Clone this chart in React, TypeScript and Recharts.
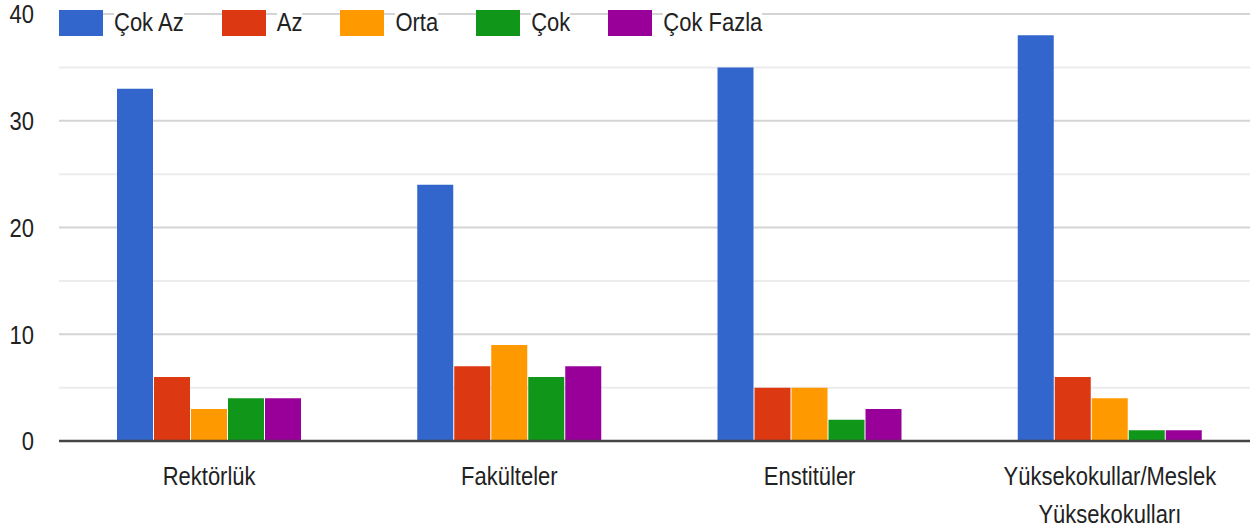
import React from 'react';
import { BarChart, Bar, XAxis, YAxis, CartesianGrid } from 'recharts';

const categories = ['Rektörlük', 'Fakülteler', 'Enstitüler', 'Yüksekokullar/Meslek Yüksekokulları'];
const seriesNames = ['Çok Az', 'Az', 'Orta', 'Çok', 'Çok Fazla'];
const seriesColors = ['#3366cc', '#dc3912', '#ff9900', '#109618', '#990099'];
const cokAz = [33, 24, 35, 38];
const az = [6, 7, 5, 6];
const orta = [3, 9, 5, 4];
const cok = [4, 6, 2, 1];
const cokFazla = [4, 7, 3, 1];
const gridTicks = [0, 5, 10, 15, 20, 25, 30, 35, 40];
const labelStep = 10;

const seriesValues = [cokAz, az, orta, cok, cokFazla];
const keys = ['s0', 's1', 's2', 's3', 's4'];
const data = categories.map((name, i) => {
  const row: any = { name };
  keys.forEach((k, j) => (row[k] = seriesValues[j][i]));
  return row;
});

const FONT = '"Liberation Sans", Arial, sans-serif';
const STRETCH = 1.2;
const MAJOR = '#d4d4d4';
const MINOR = '#ececec';

const YTick = (props: any) => {
  const { x, y, payload } = props;
  if (payload.value % labelStep !== 0) return <g />;
  return (
    <g transform={`translate(${x},${y}) scale(1,${STRETCH})`}>
      <text x={0} y={0} dy="0.355em" textAnchor="end" fontSize={22} fill="#222" fontFamily={FONT}>
        {payload.value}
      </text>
    </g>
  );
};

const XTick = (props: any) => {
  const { x, y, payload } = props;
  const label: string = String(payload.value);
  const lines = label.length > 22 ? label.split(' ') : [label];
  return (
    <g transform={`translate(${x},${y + 44}) scale(1,${STRETCH})`}>
      <text x={0} y={0} textAnchor="middle" fontSize={22} fill="#222" fontFamily={FONT}>
        {lines.map((l, i) => (
          <tspan key={i} x={0} dy={i === 0 ? 0 : 32}>
            {l}
          </tspan>
        ))}
      </text>
    </g>
  );
};

const GridLine = (p: any) => {
  const idx = typeof p.index === 'number' ? p.index : 0;
  const val = gridTicks[idx];
  const isMajor = val !== undefined ? val % labelStep === 0 : true;
  return (
    <line
      key={p.key}
      x1={p.x1}
      y1={p.y1}
      x2={p.x2}
      y2={p.y2}
      stroke={isMajor ? MAJOR : MINOR}
      strokeWidth={2}
      fill="none"
    />
  );
};

export default function App() {
  return (
    <div style={{ position: 'absolute', left: 0, top: 0, width: 1256, height: 531, overflow: 'hidden', background: '#fff' }}>
      <BarChart
        width={1256}
        height={531}
        data={data}
        margin={{ top: 14, right: 6, bottom: 0, left: 0 }}
        barGap={1}
        barSize={36}
      >
        <YAxis
          domain={[0, 40]}
          ticks={gridTicks}
          type="number"
          width={59}
          axisLine={false}
          tickLine={false}
          tickSize={0}
          tickMargin={25}
          tick={<YTick />}
          interval={0}
        />
        <CartesianGrid vertical={false} horizontal={GridLine} />
        <XAxis
          dataKey="name"
          height={90}
          tickLine={false}
          tickSize={0}
          tickMargin={0}
          axisLine={{ stroke: '#444', strokeWidth: 2.5 }}
          tick={<XTick />}
          interval={0}
          padding={{ left: 0, right: -10 }}
        />
        {keys.map((k, j) => (
          <Bar key={k} dataKey={k} name={seriesNames[j]} fill={seriesColors[j]} isAnimationActive={false} />
        ))}
      </BarChart>
      <div
        style={{
          position: 'absolute',
          left: 59,
          top: 10,
          height: 26,
          display: 'flex',
          alignItems: 'center',
          fontFamily: FONT,
          fontSize: 22,
          color: '#222',
        }}
      >
        {seriesNames.map((n, j) => (
          <div key={n} style={{ display: 'flex', alignItems: 'center', marginRight: 38 }}>
            <div style={{ width: 44, height: 26, background: seriesColors[j], marginRight: 11 }} />
            <span
              style={{
                display: 'inline-block',
                background: '#fff',
                lineHeight: '22px',
                transform: `scaleY(${STRETCH})`,
                whiteSpace: 'nowrap',
              }}
            >
              {n}
            </span>
          </div>
        ))}
      </div>
    </div>
  );
}
